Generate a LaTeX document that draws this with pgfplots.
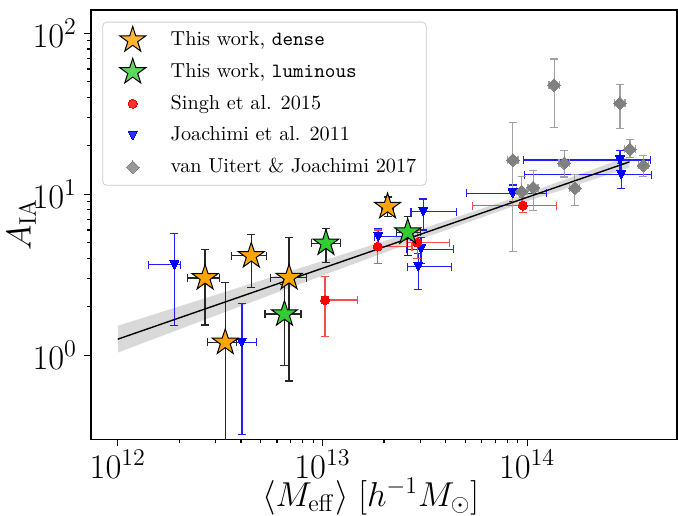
\documentclass[border=0pt]{standalone}
\usepackage{pgfplots}
\usepackage{pgfplotstable}
\pgfplotsset{compat=1.18}

\definecolor{mporange}{RGB}{255,165,0}
\definecolor{mpgreen}{RGB}{50,205,50}
\definecolor{mpgray}{RGB}{128,128,128}
\definecolor{bargray}{RGB}{160,160,160}
\definecolor{barred}{RGB}{255,75,75}
\definecolor{barblue}{RGB}{30,30,255}
\definecolor{bandgray}{RGB}{217,217,217}

% filled five-pointed star
\pgfdeclareplotmark{fstar}{%
  \pgfpathmoveto{\pgfpointpolar{90}{\pgfplotmarksize}}%
  \pgfpathlineto{\pgfpointpolar{126}{0.382\pgfplotmarksize}}%
  \pgfpathlineto{\pgfpointpolar{162}{\pgfplotmarksize}}%
  \pgfpathlineto{\pgfpointpolar{198}{0.382\pgfplotmarksize}}%
  \pgfpathlineto{\pgfpointpolar{234}{\pgfplotmarksize}}%
  \pgfpathlineto{\pgfpointpolar{270}{0.382\pgfplotmarksize}}%
  \pgfpathlineto{\pgfpointpolar{306}{\pgfplotmarksize}}%
  \pgfpathlineto{\pgfpointpolar{342}{0.382\pgfplotmarksize}}%
  \pgfpathlineto{\pgfpointpolar{18}{\pgfplotmarksize}}%
  \pgfpathlineto{\pgfpointpolar{54}{0.382\pgfplotmarksize}}%
  \pgfpathclose
  \pgfusepathqfillstroke
}
% downward triangle, as wide as it is tall
\pgfdeclareplotmark{tdown}{%
  \pgfpathmoveto{\pgfqpoint{0pt}{-\pgfplotmarksize}}%
  \pgfpathlineto{\pgfqpoint{-\pgfplotmarksize}{\pgfplotmarksize}}%
  \pgfpathlineto{\pgfqpoint{\pgfplotmarksize}{\pgfplotmarksize}}%
  \pgfpathclose
  \pgfusepathqfillstroke
}
% square diamond
\pgfdeclareplotmark{sdiam}{%
  \pgfpathmoveto{\pgfqpoint{0pt}{\pgfplotmarksize}}%
  \pgfpathlineto{\pgfqpoint{\pgfplotmarksize}{0pt}}%
  \pgfpathlineto{\pgfqpoint{0pt}{-\pgfplotmarksize}}%
  \pgfpathlineto{\pgfqpoint{-\pgfplotmarksize}{0pt}}%
  \pgfpathclose
  \pgfusepathqfillstroke
}

% columns: mass, amplitude, mass range, amplitude range
\pgfplotstableread{
x       y     xlo     xhi     ylo   yhi
2.67e12 3.02  2.20e12 3.13e12 1.54  4.55
4.49e12 4.14  3.58e12 5.35e12 2.64  5.59
2.08e13 8.37  1.95e13 2.21e13 7.26  9.60
3.35e12 1.20  2.75e12 3.80e12 0.05  2.82
6.87e12 3.03  5.55e12 8.32e12 0.69  5.38
}\dense

\pgfplotstableread{
x       y     xlo     xhi     ylo   yhi
6.52e12 1.80  5.24e12 7.85e12 0.86  2.75
1.04e13 4.96  8.81e12 1.23e13 3.76  6.15
2.61e13 5.81  2.29e13 3.00e13 4.14  7.26
}\luminous

\pgfplotstableread{
x       y     xlo     xhi     ylo   yhi
1.86e13 4.73  1.80e13 2.74e13 3.73  6.00
2.91e13 5.01  2.57e13 4.16e13 4.00  6.00
9.53e13 8.50  5.43e13 1.39e14 7.69  9.50
1.03e13 2.20  1.03e13 1.48e13 1.31  3.08
}\singh

\pgfplotstableread{
x       y      xlo     xhi     ylo    yhi
1.89e12 3.64   1.41e12 2.03e12 1.53   5.67
4.04e12 1.20   3.44e12 4.74e12 0.32   2.10
1.87e13 5.45   1.80e13 2.69e13 4.60   6.15
3.11e13 7.80   2.71e13 4.50e13 6.00   9.35
3.03e13 4.55   2.58e13 4.37e13 3.70   5.40
2.94e13 3.55   2.61e13 4.27e13 2.57   4.30
8.51e13 10.15  5.07e13 1.24e14 9.00   11.40
2.84e14 16.30  9.60e13 4.02e14 14.00  18.80
2.88e14 13.20  9.70e13 4.06e14 10.90  15.50
}\joachimi

\pgfplotstableread{
x        y     xlo     xhi     ylo   yhi
8.51e13  16.3  8.03e13 9.02e13 4.4   28.0
9.42e13  10.4  8.90e13 9.98e13 8.6   12.9
1.07e14  11.0  1.01e14 1.13e14 7.9   14.0
1.355e14 47.7  1.28e14 1.44e14 25.9  69.2
1.52e14  15.6  1.43e14 1.61e14 12.8  18.6
1.71e14  10.9  1.61e14 1.81e14 8.5   13.2
2.84e14  36.7  2.68e14 3.01e14 25.7  48.2
3.18e14  19.0  3.00e14 3.37e14 17.0  22.0
3.70e14  15.1  3.49e14 3.92e14 12.9  17.4
}\vanuitert

\pgfplotsset{
  errbars/.style={
    error bars/.cd,
      x dir=both, y dir=both, x explicit, y explicit,
      error bar style={#1, line width=0.6pt},
      error mark options={rotate=90, #1, mark size=2pt, line width=0.6pt},
  },
  /pgfplots/table/errcols/.style={
    x=x, y=y,
    x error plus expr=\thisrow{xhi}-\thisrow{x},
    x error minus expr=\thisrow{x}-\thisrow{xlo},
    y error plus expr=\thisrow{yhi}-\thisrow{y},
    y error minus expr=\thisrow{y}-\thisrow{ylo},
  },
}

\begin{document}
\begin{tikzpicture}
\begin{axis}[
  xmode=log, ymode=log,
  scale only axis, width=293pt, height=214.65pt,
  xmin=7.4e11, xmax=5.4e14, ymin=0.3, ymax=139.6,
  axis line style={line width=0.8pt},
  tick align=outside, xtick pos=bottom, ytick pos=left,
  major tick length=3.5pt, minor tick length=2pt,
  every tick/.style={black, line width=0.6pt},
  xtick={1e12,1e13,1e14}, ytick={1,10,100},
  ticklabel style={font=\fontsize{16.5}{20}\selectfont},
  xticklabel style={text depth=0pt, yshift=1.5pt},
  label style={font=\fontsize{16.5}{20}\selectfont},
  xlabel={$\langle M_{\mathrm{eff}}\rangle\ [h^{-1}M_{\odot}]$},
  ylabel={$A_{\mathrm{IA}}$},
  xlabel style={at={(axis description cs:0.477,-0.1335)}, anchor=center},
  ylabel style={at={(axis description cs:-0.1186,0.5)}, anchor=center},
  legend style={at={(0.0193,0.9727)}, anchor=north west,
    draw=black!20, rounded corners=2pt, fill=white, fill opacity=0.8,
    text opacity=1, font=\fontsize{10.1}{12}\selectfont,
    row sep=0.9pt, inner xsep=4pt, inner ysep=1.5pt,
    nodes={inner sep=1pt, text height=7.5pt, text depth=2.2pt}},
  legend cell align=left,
  legend image code/.code={%
    \path[draw=none, fill=none] (0pt,-7.5pt) rectangle (29pt,7.5pt);
    \draw[mark repeat=2, mark phase=2, #1]
      plot coordinates {(0pt,0pt) (11pt,0pt) (22pt,0pt)};},
]
\coordinate (sw) at (rel axis cs:0,0);
\coordinate (ne) at (rel axis cs:1,1);

\addlegendimage{only marks, mark=fstar, mark size=6.8pt,
  mark options={fill=mporange, draw=black, line width=0.5pt, line join=miter}}
\addlegendentry{This work, \texttt{dense}}
\addlegendimage{only marks, mark=fstar, mark size=6.8pt,
  mark options={fill=mpgreen, draw=black, line width=0.5pt, line join=miter}}
\addlegendentry{This work, \texttt{luminous}}
\addlegendimage{only marks, mark=*, mark size=2.25pt,
  mark options={fill=red, draw=red, line width=0pt}}
\addlegendentry{Singh et al. 2015}
\addlegendimage{only marks, mark=tdown, mark size=2.2pt,
  mark options={fill=blue, draw=blue, line width=0pt}}
\addlegendentry{Joachimi et al. 2011}
\addlegendimage{only marks, mark=sdiam, mark size=3.2pt,
  mark options={fill=mpgray, draw=mpgray, line width=0pt}}
\addlegendentry{van Uitert \& Joachimi 2017}

% uncertainty band of the power-law fit
\addplot[forget plot, draw=none, fill=bandgray] coordinates {
  (1e12,1.522) (3.162e12,2.417) (1e13,3.848) (3.162e13,6.172)
  (1e14,10.14) (3.162e14,17.24) (3.162e14,14.65) (1e14,9.03)
  (3.162e13,5.377) (1e13,3.126) (3.162e12,1.804) (1e12,1.038)
} --cycle;

\addplot[forget plot, only marks, mark=tdown, mark size=2.2pt,
  mark options={fill=blue, draw=blue, line width=0pt},
  errbars=barblue] table[errcols] {\joachimi};

\addplot[forget plot, only marks, mark=*, mark size=2.25pt,
  mark options={fill=red, draw=red, line width=0pt},
  errbars=barred] table[errcols] {\singh};

\addplot[forget plot, only marks, mark=sdiam, mark size=3.2pt,
  mark options={fill=mpgray, draw=mpgray, line width=0pt},
  errbars=bargray] table[errcols] {\vanuitert};

\addplot[forget plot, only marks, mark=fstar, mark size=6.8pt,
  mark options={fill=mporange, draw=black, line width=0.5pt, line join=miter},
  errbars=black!85] table[errcols] {\dense};

\addplot[forget plot, only marks, mark=fstar, mark size=6.8pt,
  mark options={fill=mpgreen, draw=black, line width=0.5pt, line join=miter},
  errbars=black!85] table[errcols] {\luminous};

% best-fit power law
\addplot[forget plot, black, line width=0.7pt] coordinates {
  (1e12,1.257) (3.162e14,15.89)};
\end{axis}
\pgfresetboundingbox
\path[use as bounding box] ([shift={(-45.5pt,-37.85pt)}]sw) rectangle ([shift={(0.5pt,5pt)}]ne);
\end{tikzpicture}
\end{document}
